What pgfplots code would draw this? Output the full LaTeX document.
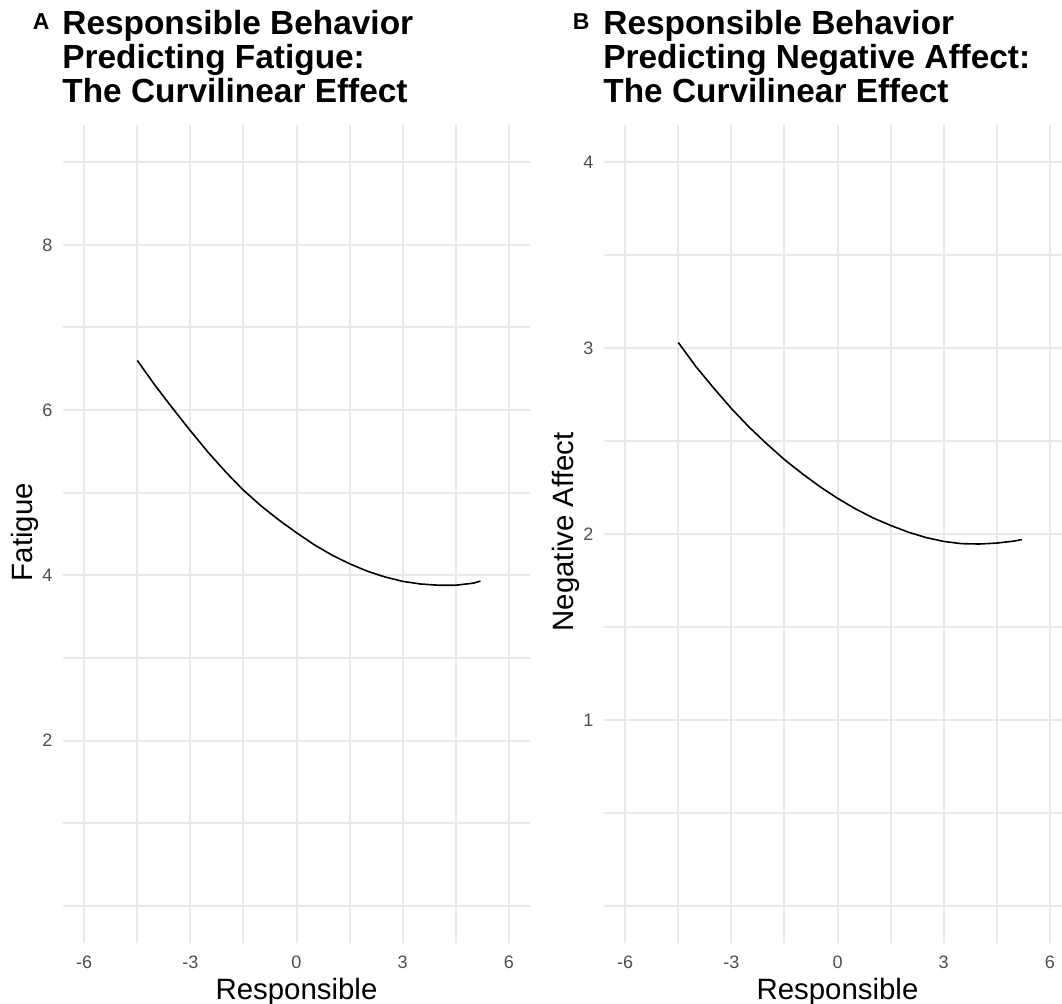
\documentclass[border=0pt]{standalone}
\usepackage{fontspec}
\setmainfont{Liberation Sans}
\usepackage{pgfplots}
\pgfplotsset{compat=1.18}
\usepackage{pgfplotstable}
\definecolor{gridc}{RGB}{233,233,233}
\definecolor{tickc}{RGB}{77,77,77}

\pgfplotstableread{
x y
-4.5 6.60
-4.0 6.30
-3.5 6.02
-3.0 5.75
-2.5 5.49
-2.0 5.25
-1.5 5.03
-1.0 4.84
-0.5 4.67
0.0 4.515
0.5 4.37
1.0 4.245
1.5 4.14
2.0 4.05
2.5 3.98
3.0 3.927
3.5 3.895
4.0 3.88
4.5 3.88
5.0 3.905
5.2 3.93
}\fatigue

\pgfplotstableread{
x y
-4.5 3.03
-4.0 2.90
-3.5 2.785
-3.0 2.675
-2.5 2.575
-2.0 2.485
-1.5 2.40
-1.0 2.325
-0.5 2.255
0.0 2.192
0.5 2.136
1.0 2.087
1.5 2.046
2.0 2.010
2.5 1.981
3.0 1.960
3.5 1.948
4.0 1.946
4.5 1.951
5.0 1.962
5.21 1.970
}\negaff

\pgfplotsset{
  panel/.style={
    scale only axis, width=233.5pt, height=409pt, anchor=south west,
    xmin=-6.6, xmax=6.6,
    xtick={-6,-3,0,3,6}, xticklabels={{-6},{-3},{0},{3},{6}},
    minor xtick={-4.5,-1.5,1.5,4.5},
    grid=both,
    major grid style={line width=1pt, color=gridc},
    minor grid style={line width=1pt, color=gridc},
    axis line style={draw=none},
    major tick length=0pt, minor tick length=0pt,
    tick style={draw=none},
    /pgf/number format/assume math mode=true,
    ticklabel style={font=\fontsize{9}{10}\selectfont, text=tickc},
    xticklabel style={anchor=base, yshift=-13pt},
    yticklabel style={anchor=east, inner sep=0pt, xshift=-5.1pt},
  }
}

\begin{document}
\begin{tikzpicture}[x=0.5pt,y=0.5pt]
\begin{axis}[panel, at={(31.5pt,30.5pt)},
  ymin=-0.45, ymax=9.45,
  ytick={2,4,6,8}, yticklabels={2,4,6,8},
  minor ytick={0,1,3,5,7,9}]
  \addplot[black, line width=0.8pt, no marks] table[x=x,y=y] {\fatigue};
\end{axis}
\begin{axis}[panel, at={(302pt,30.5pt)},
  ymin=-0.2, ymax=4.2,
  ytick={1,2,3,4}, yticklabels={1,2,3,4},
  minor ytick={0,0.5,1.5,2.5,3.5}]
  \addplot[black, line width=0.8pt, no marks] table[x=x,y=y] {\negaff};
\end{axis}

% tags
\node[anchor=base west, inner sep=0pt, font=\bfseries\fontsize{11.5}{12}\selectfont] at (32.5,974) {A};
\node[anchor=base west, inner sep=0pt, font=\bfseries\fontsize{11.5}{12}\selectfont] at (572.5,974) {B};

% titles
\begin{scope}[every node/.style={anchor=base west, inner sep=0pt, font=\bfseries\fontsize{16.7}{17}\selectfont}]
\node at (62,969) {Responsible Behavior};
\node at (62,935.5) {Predicting Fatigue:};
\node at (62,901) {The Curvilinear Effect};
\node at (603,969) {Responsible Behavior};
\node at (603,935.5) {Predicting Negative Affect:};
\node at (603,901) {The Curvilinear Effect};
\end{scope}

% axis titles
\node[anchor=base, inner sep=0pt, font=\fontsize{14.7}{16}\selectfont] at (296.5,4) {Responsible};
\node[anchor=base, inner sep=0pt, font=\fontsize{14.7}{16}\selectfont] at (837.5,4) {Responsible};
\node[rotate=90, anchor=base, inner sep=0pt, font=\fontsize{14.7}{16}\selectfont] at (32,472) {Fatigue};
\node[rotate=90, anchor=base, inner sep=0pt, font=\fontsize{14.7}{16}\selectfont] at (573,472) {Negative Affect};

\pgfresetboundingbox
\useasboundingbox (0,0) rectangle (1062,1004);
\end{tikzpicture}
\end{document}
